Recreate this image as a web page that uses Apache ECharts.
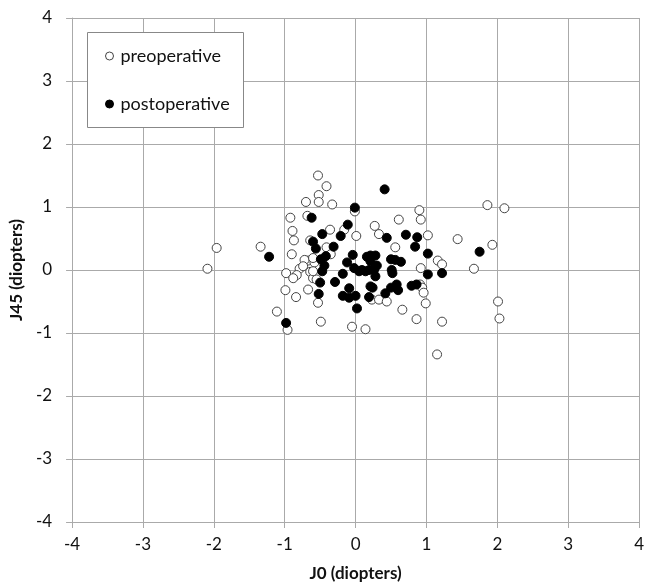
<!DOCTYPE html>
<html>
<head>
<meta charset="utf-8">
<script src="https://cdn.jsdelivr.net/npm/echarts@6/dist/echarts.min.js"></script>
<style>
html,body{margin:0;padding:0;background:#fff;}
#chart{width:647px;height:587px;}
</style>
</head>
<body>
<div id="chart"></div>
<script>
const xTicks = [-4,-3,-2,-1,0,1,2,3,4];
const yTicks = [-4,-3,-2,-1,0,1,2,3,4];
const xTitle = 'J0 (diopters)';
const yTitle = 'J45 (diopters)';
const seriesNames = ['preoperative','postoperative'];

const preoperative = [
[-0.53,1.50],[-0.41,1.33],[-0.52,1.19],[-0.70,1.08],[-0.52,1.08],[-0.33,1.04],
[-0.01,0.93],[-0.92,0.83],[-0.68,0.86],[-0.89,0.62],[-0.36,0.64],[-0.87,0.47],
[-0.64,0.47],[-0.41,0.36],[-0.35,0.25],[-0.90,0.25],[-1.96,0.35],[-1.34,0.37],
[-2.09,0.02],[0.01,0.54],[-0.16,0.64],[-0.67,0.15],[-0.58,0.12],[-0.79,0.02],
[-0.98,-0.05],[-0.83,-0.08],[-0.64,-0.03],[0.90,0.95],[0.92,0.80],[0.61,0.80],
[1.86,1.03],[2.10,0.98],[0.27,0.70],[0.33,0.57],[0.56,0.36],[1.02,0.55],
[1.44,0.49],[1.93,0.40],[1.16,0.15],[1.22,0.09],[0.92,0.03],[1.67,0.02],
[2.01,-0.50],[2.03,-0.77],[1.22,-0.82],[1.15,-1.34],[-0.88,-0.13],[-0.60,-0.13],
[-0.55,-0.15],[-0.99,-0.32],[-0.67,-0.31],[-0.84,-0.43],[-0.53,-0.52],[-1.11,-0.66],
[-0.96,-0.95],[-0.49,-0.82],[-0.05,-0.90],[0.91,-0.23],[0.94,-0.28],[0.96,-0.36],
[0.99,-0.53],[0.23,-0.47],[0.33,-0.47],[0.44,-0.50],[0.66,-0.63],[0.86,-0.78],
[0.14,-0.94],[-0.72,0.16],[-0.60,0.19],[-0.60,-0.02],[-0.74,0.06]
];

const postoperative = [
[-0.62,0.83],[-0.01,0.99],[-0.11,0.72],[-0.47,0.57],[-0.21,0.54],[-0.60,0.45],
[-0.31,0.37],[-0.56,0.34],[-0.42,0.22],[-0.49,0.17],[-0.04,0.24],[-0.12,0.12],
[-0.44,0.07],[-0.02,0.03],[-0.47,-0.02],[-0.18,-0.06],[-1.22,0.21],[0.41,1.28],
[0.44,0.51],[0.71,0.56],[0.87,0.52],[0.84,0.37],[1.02,0.26],[1.75,0.29],
[0.21,0.23],[0.28,0.23],[0.16,0.21],[0.21,0.14],[0.50,0.17],[0.56,0.16],
[0.64,0.13],[0.30,0.07],[0.09,0.0],[0.19,0.0],[0.26,0.0],[0.28,-0.10],
[0.51,0.0],[0.52,-0.05],[1.02,-0.07],[1.22,-0.05],[-0.98,-0.84],[-0.50,-0.20],
[-0.52,-0.38],[-0.29,-0.19],[-0.09,-0.29],[-0.18,-0.41],[-0.09,-0.44],[0.0,-0.41],
[0.02,-0.61],[0.19,-0.43],[0.21,-0.26],[0.24,-0.28],[0.42,-0.37],[0.50,-0.28],
[0.58,-0.23],[0.60,-0.32],[0.79,-0.25],[0.86,-0.23],[0.05,-0.02],[0.14,-0.02]
];

const chart = echarts.init(document.getElementById('chart'), null, {renderer:'canvas'});
const gridColor = '#aaaaaa';
const font = 'Lato, "Open Sans", "DejaVu Sans", sans-serif';

function axisCommon(ticks){
  return {
    type:'value',
    min: ticks[0], max: ticks[ticks.length-1], interval: 1,
    axisLine:{show:true, onZero:false, lineStyle:{color:gridColor, width:1}},
    axisTick:{show:true, length:6, lineStyle:{color:gridColor}},
    splitLine:{show:true, lineStyle:{color:gridColor, width:1}},
    axisLabel:{color:'#111', fontSize:17, fontFamily:font},
    nameTextStyle:{color:'#111', fontSize:17, fontWeight:'bold', fontFamily:font}
  };
}

const xAxis = Object.assign(axisCommon(xTicks), {
  name: xTitle, nameLocation:'middle', nameGap:43
});
xAxis.axisLabel.margin = 14;
const yAxis = Object.assign(axisCommon(yTicks), {
  name: yTitle, nameLocation:'middle', nameGap:44
});
yAxis.axisLabel.margin = 20;

chart.setOption({
  animation:false,
  backgroundColor:'#fff',
  grid:{left:69, right:3, top:18, bottom:60, containLabel:false},
  xAxis: xAxis,
  yAxis: yAxis,
  graphic:[{
    type:'rect', left:87, top:32, z:5,
    shape:{width:156, height:95},
    style:{fill:'#fff', stroke:'#888', lineWidth:1}
  }],
  legend:{
    orient:'vertical', left:87, top:32, z:10,
    padding:[14,10,13,18],
    itemGap:28, itemWidth:8, itemHeight:8,
    textStyle:{fontSize:18, color:'#111', fontFamily:font, lineHeight:20, padding:[0,0,0,2]},
    data:[
      {name:seriesNames[0], icon:'circle', itemStyle:{color:'#fff', borderColor:'#444', borderWidth:1}},
      {name:seriesNames[1], icon:'circle', itemStyle:{color:'#000', borderColor:'#000', borderWidth:1}}
    ]
  },
  series:[
    {
      name:seriesNames[0], type:'scatter', data:preoperative,
      symbol:'circle', symbolSize:9,
      itemStyle:{color:'#fff', borderColor:'#444', borderWidth:1, opacity:1}
    },
    {
      name:seriesNames[1], type:'scatter', data:postoperative,
      symbol:'circle', symbolSize:9,
      itemStyle:{color:'#000', borderColor:'#000', borderWidth:1, opacity:1}
    }
  ]
});
</script>
</body>
</html>
